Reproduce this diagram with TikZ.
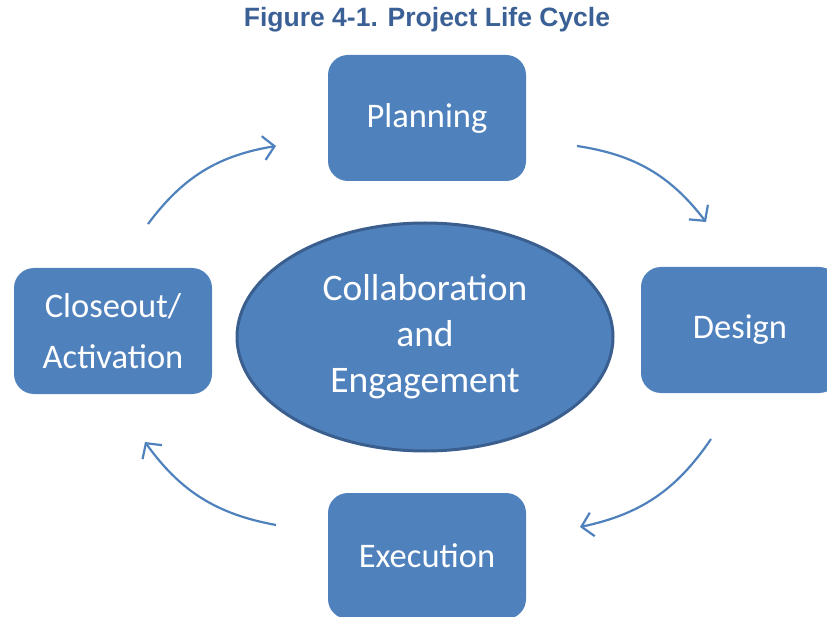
\documentclass[tikz,border=0pt]{standalone}
\usepackage{fontspec}
\setmainfont{Carlito}
\newfontfamily\headfont{Liberation Sans}
\usetikzlibrary{shapes.geometric,arrows.meta}
\definecolor{boxblue}{HTML}{4F81BD}
\definecolor{rimblue}{HTML}{3A5F8F}
\definecolor{headblue}{HTML}{3A6096}
\tikzset{
  stage/.style={draw=none, fill=boxblue, rounded corners=20pt, minimum width=198pt,
    minimum height=126pt, inner sep=0pt, text=white, align=center,
    font=\fontsize{34.5}{51}\selectfont},
  hub/.style={ellipse, draw=rimblue, line width=3pt, fill=boxblue, minimum width=376pt,
    minimum height=228pt, inner sep=0pt, text=white, align=center,
    font=\fontsize{37.5}{46}\selectfont},
  flow/.style={draw=boxblue, line width=2.2pt, -{Straight Barb[length=11pt,width=24pt,line width=2.2pt]}, bend left=22}
}
\begin{document}
\begin{tikzpicture}[x=1pt,y=-1pt]
  \useasboundingbox (0,0) rectangle (827,617);
  \clip (0,0) rectangle (827,617);
  % heading
  \node[text=headblue, font=\headfont\bfseries\fontsize{26.5}{30}\selectfont] (title) at (427,20) {Figure 4-1. Project Life Cycle};
  % the four phases and the hub
  \node[stage] (plan) at (427,118) {Planning};
  \node[stage] (design) at (740,330) {Design};
  \node[stage] (exec) at (427,556) {Execution};
  \node[stage] (close) at (113,331) {Closeout/\\Activation};
  \node[hub] (hub) at (425,337) {Collaboration\\and\\Engagement};
  % arrow ends
  \coordinate (a1s) at (148,224);
  \coordinate (a1e) at (276,146);
  \coordinate (a2s) at (577,146);
  \coordinate (a2e) at (706,222);
  \coordinate (a3s) at (711,439);
  \coordinate (a3e) at (580,527);
  \coordinate (a4s) at (276,525);
  \coordinate (a4e) at (145,442);
  \draw[flow] (a1s) to (a1e);
  \draw[flow] (a2s) to (a2e);
  \draw[flow] (a3s) to (a3e);
  \draw[flow] (a4s) to (a4e);
\end{tikzpicture}
\end{document}
